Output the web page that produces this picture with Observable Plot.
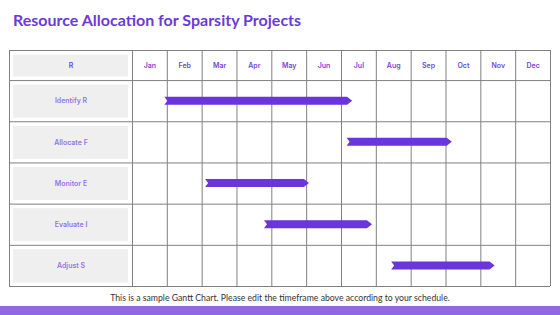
<!DOCTYPE html>
<html>
<head>
<meta charset="utf-8">
<script src="https://cdn.jsdelivr.net/npm/d3@7"></script>
<script src="https://cdn.jsdelivr.net/npm/@observablehq/plot@0.6"></script>
<style>
  html, body { margin: 0; padding: 0; background: #fff; }
  #wrap { width: 560px; height: 315px; overflow: hidden; position: relative; }
  #title { height: 48px; box-sizing: border-box; padding: 10px 0 0 13px; font-family: Lato, sans-serif; font-weight: 700; font-size: 16px; line-height: 20px; color: #6a3bd6; }
  #chart svg { display: block; }
  #caption { height: 18px; line-height: 19px; text-align: center; font-family: Lato, sans-serif; font-size: 8.7px; color: #333; }
  #strip { height: 9px; background: #9068e0; }
</style>
</head>
<body>
<div id="wrap">
  <div id="title">Resource Allocation for Sparsity Projects</div>
  <div id="chart"></div>
  <div id="caption">This is a sample Gantt Chart. Please edit the timeframe above according to your schedule.</div>
  <div id="strip"></div>
</div>
<script>
const headerLabel = "R";
const months = ["Jan","Feb","Mar","Apr","May","Jun","Jul","Aug","Sep","Oct","Nov","Dec"];
const tasks = ["Identify R","Allocate F","Monitor E","Evaluate I","Adjust S"];
const starts = [0.93, 6.16, 2.1, 3.79, 7.44];
const ends = [6.32, 9.18, 5.08, 6.89, 10.41];

const LABEL_LEFT = -3.53;   // left edge of label column (in month units)
const HEADER_TOP = -0.73;   // top of header row (in row units)

const taskRows = tasks.map((name, i) => ({name, row: i, start: starts[i], end: ends[i]}));
const labelCells = [{y1: HEADER_TOP, y2: 0}, ...tasks.map((t, i) => ({y1: i, y2: i + 1}))];
const vLines = [LABEL_LEFT, ...d3.range(0, months.length + 1)];
const hLines = [HEADER_TOP, ...d3.range(0, tasks.length + 1)];

function chevron(index, scales, values, dimensions, context) {
  const g = d3.create("svg:g");
  for (const i of index) {
    const xa = values.x1[i], xb = values.x2[i];
    const ya = Math.min(values.y1[i], values.y2[i]), yb = Math.max(values.y1[i], values.y2[i]);
    const ym = (ya + yb) / 2, tip = 5, notch = 3;
    g.append("path")
      .attr("d", `M${xa},${ya}L${xb - tip},${ya}L${xb},${ym}L${xb - tip},${yb}L${xa},${yb}L${xa + notch},${ym}Z`)
      .attr("fill", "#6a35db");
  }
  return g.node();
}

const chart = Plot.plot({
  width: 560,
  height: 240,
  marginLeft: 9,
  marginRight: 10,
  marginTop: 2,
  marginBottom: 2,
  x: {domain: [LABEL_LEFT, months.length], axis: null},
  y: {domain: [HEADER_TOP, tasks.length], reverse: true, axis: null},
  marks: [
    Plot.rect(labelCells, {x1: LABEL_LEFT, x2: 0, y1: "y1", y2: "y2", fill: "#efefef", insetLeft: 4, insetRight: 4, insetTop: 4.5, insetBottom: 3.5}),
    Plot.ruleX(vLines, {x: d => d, y1: HEADER_TOP, y2: tasks.length, stroke: "#808080", strokeWidth: 1}),
    Plot.ruleY(hLines, {y: d => d, x1: LABEL_LEFT, x2: months.length, stroke: "#808080", strokeWidth: 1}),
    Plot.text(months, {x: (d, i) => i + 0.5, y: HEADER_TOP / 2, text: d => d, fill: "#7546d8", fontSize: 7, fontWeight: 600, fontFamily: "Inter, sans-serif"}),
    Plot.text([headerLabel], {x: LABEL_LEFT / 2, y: HEADER_TOP / 2, text: d => d, fill: "#7546d8", fontSize: 7, fontWeight: 600, fontFamily: "Inter, sans-serif"}),
    Plot.text(taskRows, {x: LABEL_LEFT / 2, y: d => d.row + 0.5, text: "name", fill: "#9575e6", fontSize: 7, fontWeight: 600, fontFamily: "Inter, sans-serif"}),
    Plot.rect(taskRows, {x1: "start", x2: "end", y1: d => d.row + 0.5 - 0.097, y2: d => d.row + 0.5 + 0.097, render: chevron})
  ]
});
document.getElementById("chart").append(chart);
</script>
</body>
</html>
